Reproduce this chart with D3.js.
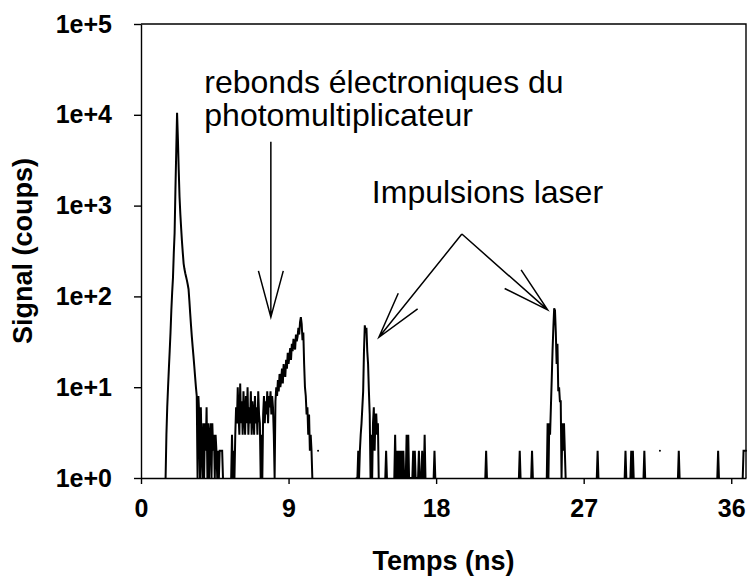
<!DOCTYPE html>
<html>
<head>
<meta charset="utf-8">
<script src="https://cdn.jsdelivr.net/npm/d3@7"></script>
<style>
  html, body { margin: 0; padding: 0; background: #fff; }
  svg { display: block; }
  text { font-family: "Liberation Sans", Arial, sans-serif; fill: #000; }
</style>
</head>
<body>
<svg id="chart" width="749" height="580"></svg>
<script>
// ---------- data (channel width 0.05 ns, counts per channel) ----------
const binNs = 0.05;
const timeMaxNs = 36.9;
const xTickValues = [0, 9, 18, 27, 36];
const yTickValues = [1, 10, 100, 1000, 10000, 100000];
const yTickLabels = ["1e+0", "1e+1", "1e+2", "1e+3", "1e+4", "1e+5"];

// main fluorescence peak + decay + noise (starts 1.50 ns)
const mainPeakStartNs = 1.50;
const mainPeakCounts = [1, 3, 6, 10, 16, 25, 40, 70, 110, 160, 300, 500, 1500, 4000, 10500,
  5500, 2500, 1250, 800, 560, 400, 300, 230, 200, 180, 165, 150, 135, 120, 90, 65, 48, 36,
  28, 22, 17, 13, 10, 8, 1, 8, 5, 1, 6, 2, 1, 4, 1, 4, 2, 6, 1, 4, 1, 3, 4, 1, 4, 2, 3, 1,
  3, 2, 1, 2, 1, 2, 2, 2, 2, 1];

// photomultiplier electronic rebounds (starts 5.50 ns)
const reboundStartNs = 5.50;
const reboundCounts = [1, 3, 1, 2, 1, 3, 6, 4, 10, 5, 3, 11, 4, 7, 3, 9, 5, 3, 8, 4, 10, 3, 6,
  4, 9, 3, 7, 5, 3, 8, 4, 6, 3, 9, 5, 4, 1, 3, 1, 5, 8, 4, 7, 5, 9, 4, 8, 6, 9, 5, 8, 6, 3, 1,
  7, 10, 8, 12, 9, 14, 10, 12, 16, 11, 18, 14, 13, 20, 16, 24, 18, 22, 27, 20, 30, 25, 34, 28,
  26, 38, 32, 36, 45, 38, 52, 59, 50, 33, 40, 18, 10, 8, 5, 6, 3, 5, 2, 3, 2, 1];

// first laser pulse (starts 13.15 ns)
const laser1StartNs = 13.15;
const laser1Counts = [1, 1, 2, 1, 2, 3, 4, 6, 9, 25, 48, 40, 45, 25, 18, 9, 5, 1, 3, 1, 4, 6,
  2, 5, 5, 3, 4, 1];

// noise cluster after first laser pulse (starts 15.45 ns)
const clusterStartNs = 15.45;
const clusterCounts = [1, 3, 1, 2, 1, 2, 1, 2, 1, 2, 1, 2, 1, 1, 1, 3, 1, 3, 1, 1, 1, 1, 1, 2,
  1, 2, 1, 1, 1, 1, 2, 1, 1, 1, 2, 1, 1, 3, 1];

// second laser pulse (starts 24.75 ns)
const laser2StartNs = 24.75;
const laser2Counts = [1, 4, 1, 4, 3, 6, 12, 25, 45, 74, 70, 40, 18, 30, 9, 10, 7, 7, 1, 4, 2,
  4, 2, 1];

// right edge (starts 36.70 ns)
const edgeStartNs = 36.70;
const edgeCounts = [1, 2, 2, 2, 2];

// isolated single-count spikes (2 counts, neighbours at 1)
const spikeTimesNs = [14.95, 17.90, 21.05, 23.10, 23.85, 27.85, 29.55, 29.90, 30.00, 30.70, 32.80, 35.20];
const spikeCounts  = [2, 2, 2, 2, 2, 2, 2, 2, 2, 2, 2, 2];
// isolated points (neighbours empty)
const dotTimesNs = [10.80, 31.65];
const dotCounts  = [2, 2];

// annotations
const noteRebonds = ["rebonds électroniques du", "photomultiplicateur"];
const noteLaser = "Impulsions laser";

// ---------- build channel table ----------
const nChan = Math.round(timeMaxNs / binNs) + 1;
const chan = new Array(nChan).fill(0);
function putRun(startNs, arr) {
  const k0 = Math.round(startNs / binNs);
  arr.forEach((v, i) => { if (k0 + i < nChan) chan[k0 + i] = v; });
}
putRun(mainPeakStartNs, mainPeakCounts);
putRun(reboundStartNs, reboundCounts);
putRun(laser1StartNs, laser1Counts);
putRun(clusterStartNs, clusterCounts);
putRun(laser2StartNs, laser2Counts);
putRun(edgeStartNs, edgeCounts);
spikeTimesNs.forEach((t, i) => {
  const k = Math.round(t / binNs);
  chan[k] = spikeCounts[i];
  if (chan[k - 1] === 0) chan[k - 1] = 1;
  if (chan[k + 1] === 0) chan[k + 1] = 1;
});
dotTimesNs.forEach((t, i) => { chan[Math.round(t / binNs)] = dotCounts[i]; });
const series = chan.map((c, k) => ({ t: k * binNs, c }));

// ---------- layout ----------
const svg = d3.select("#chart");
const L = 141, R = 746, T = 24, B = 478;
const x = d3.scaleLinear().domain([0, timeMaxNs]).range([L, R]);
const y = d3.scaleLog().domain([1, 1e5]).range([B, T]);

// plot frame (top + right)
svg.append("path")
  .attr("d", `M${L},${T}H${R}V${B}`)
  .attr("fill", "none").attr("stroke", "#000").attr("stroke-width", 1.4);

// data line
const line = d3.line()
  .defined(d => d.c > 0)
  .x(d => x(d.t))
  .y(d => y(d.c));
svg.append("path")
  .datum(series)
  .attr("d", line)
  .attr("fill", "none")
  .attr("stroke", "#000")
  .attr("stroke-width", 2)
  .attr("stroke-linejoin", "miter")
  .attr("stroke-linecap", "round");

// axes
const xAxis = d3.axisBottom(x).tickValues(xTickValues).tickSize(6).tickSizeOuter(0).tickPadding(15)
  .tickFormat(d3.format("d"));
const gx = svg.append("g").attr("transform", `translate(0,${B})`).call(xAxis);
const yAxis = d3.axisLeft(y).tickValues(yTickValues).tickSize(7).tickSizeOuter(0).tickPadding(22)
  .tickFormat((d, i) => yTickLabels[i]);
const gy = svg.append("g").attr("transform", `translate(${L},0)`).call(yAxis);
[gx, gy].forEach(g => {
  g.select(".domain").attr("stroke", "#000").attr("stroke-width", 1.4);
  g.selectAll(".tick line").attr("stroke", "#000").attr("stroke-width", 1.4);
  g.selectAll(".tick text")
    .style("font-family", '"Liberation Sans", Arial, sans-serif')
    .style("font-weight", "bold").style("font-size", "25px").attr("fill", "#000");
});

// axis titles
svg.append("text")
  .attr("x", (L + R) / 2).attr("y", 570)
  .attr("text-anchor", "middle")
  .style("font-weight", "bold").style("font-size", "27px")
  .text("Temps (ns)");
svg.append("text")
  .attr("transform", `translate(32,${(T + B) / 2}) rotate(-90)`)
  .attr("text-anchor", "middle")
  .style("font-weight", "bold").style("font-size", "27px")
  .text("Signal (coups)");

// annotations
const ann = svg.append("g");
ann.append("text").attr("x", x(3.86)).attr("y", 93).style("font-size", "32px").text(noteRebonds[0]);
ann.append("text").attr("x", x(3.86)).attr("y", 126).style("font-size", "32px").text(noteRebonds[1]);
ann.append("text").attr("x", x(14.08)).attr("y", 203).style("font-size", "32px").text(noteLaser);

function arrow(x0, y0, x1, y1) {
  const a = Math.atan2(y0 - y1, x0 - x1);
  const len = 48, spread = 15 * Math.PI / 180;
  const p = d3.path();
  p.moveTo(x0, y0); p.lineTo(x1, y1);
  p.moveTo(x1 + len * Math.cos(a - spread), y1 + len * Math.sin(a - spread));
  p.lineTo(x1, y1);
  p.lineTo(x1 + len * Math.cos(a + spread), y1 + len * Math.sin(a + spread));
  ann.append("path").attr("d", p.toString())
    .attr("fill", "none").attr("stroke", "#000").attr("stroke-width", 1.5);
}
// rebound arrow
arrow(x(7.92), y(5040), x(7.92), y(59));
// laser arrows from a common apex
arrow(x(19.57), y(486), x(14.51), y(35.5));
arrow(x(19.57), y(486), x(24.8), y(71));
</script>
</body>
</html>
